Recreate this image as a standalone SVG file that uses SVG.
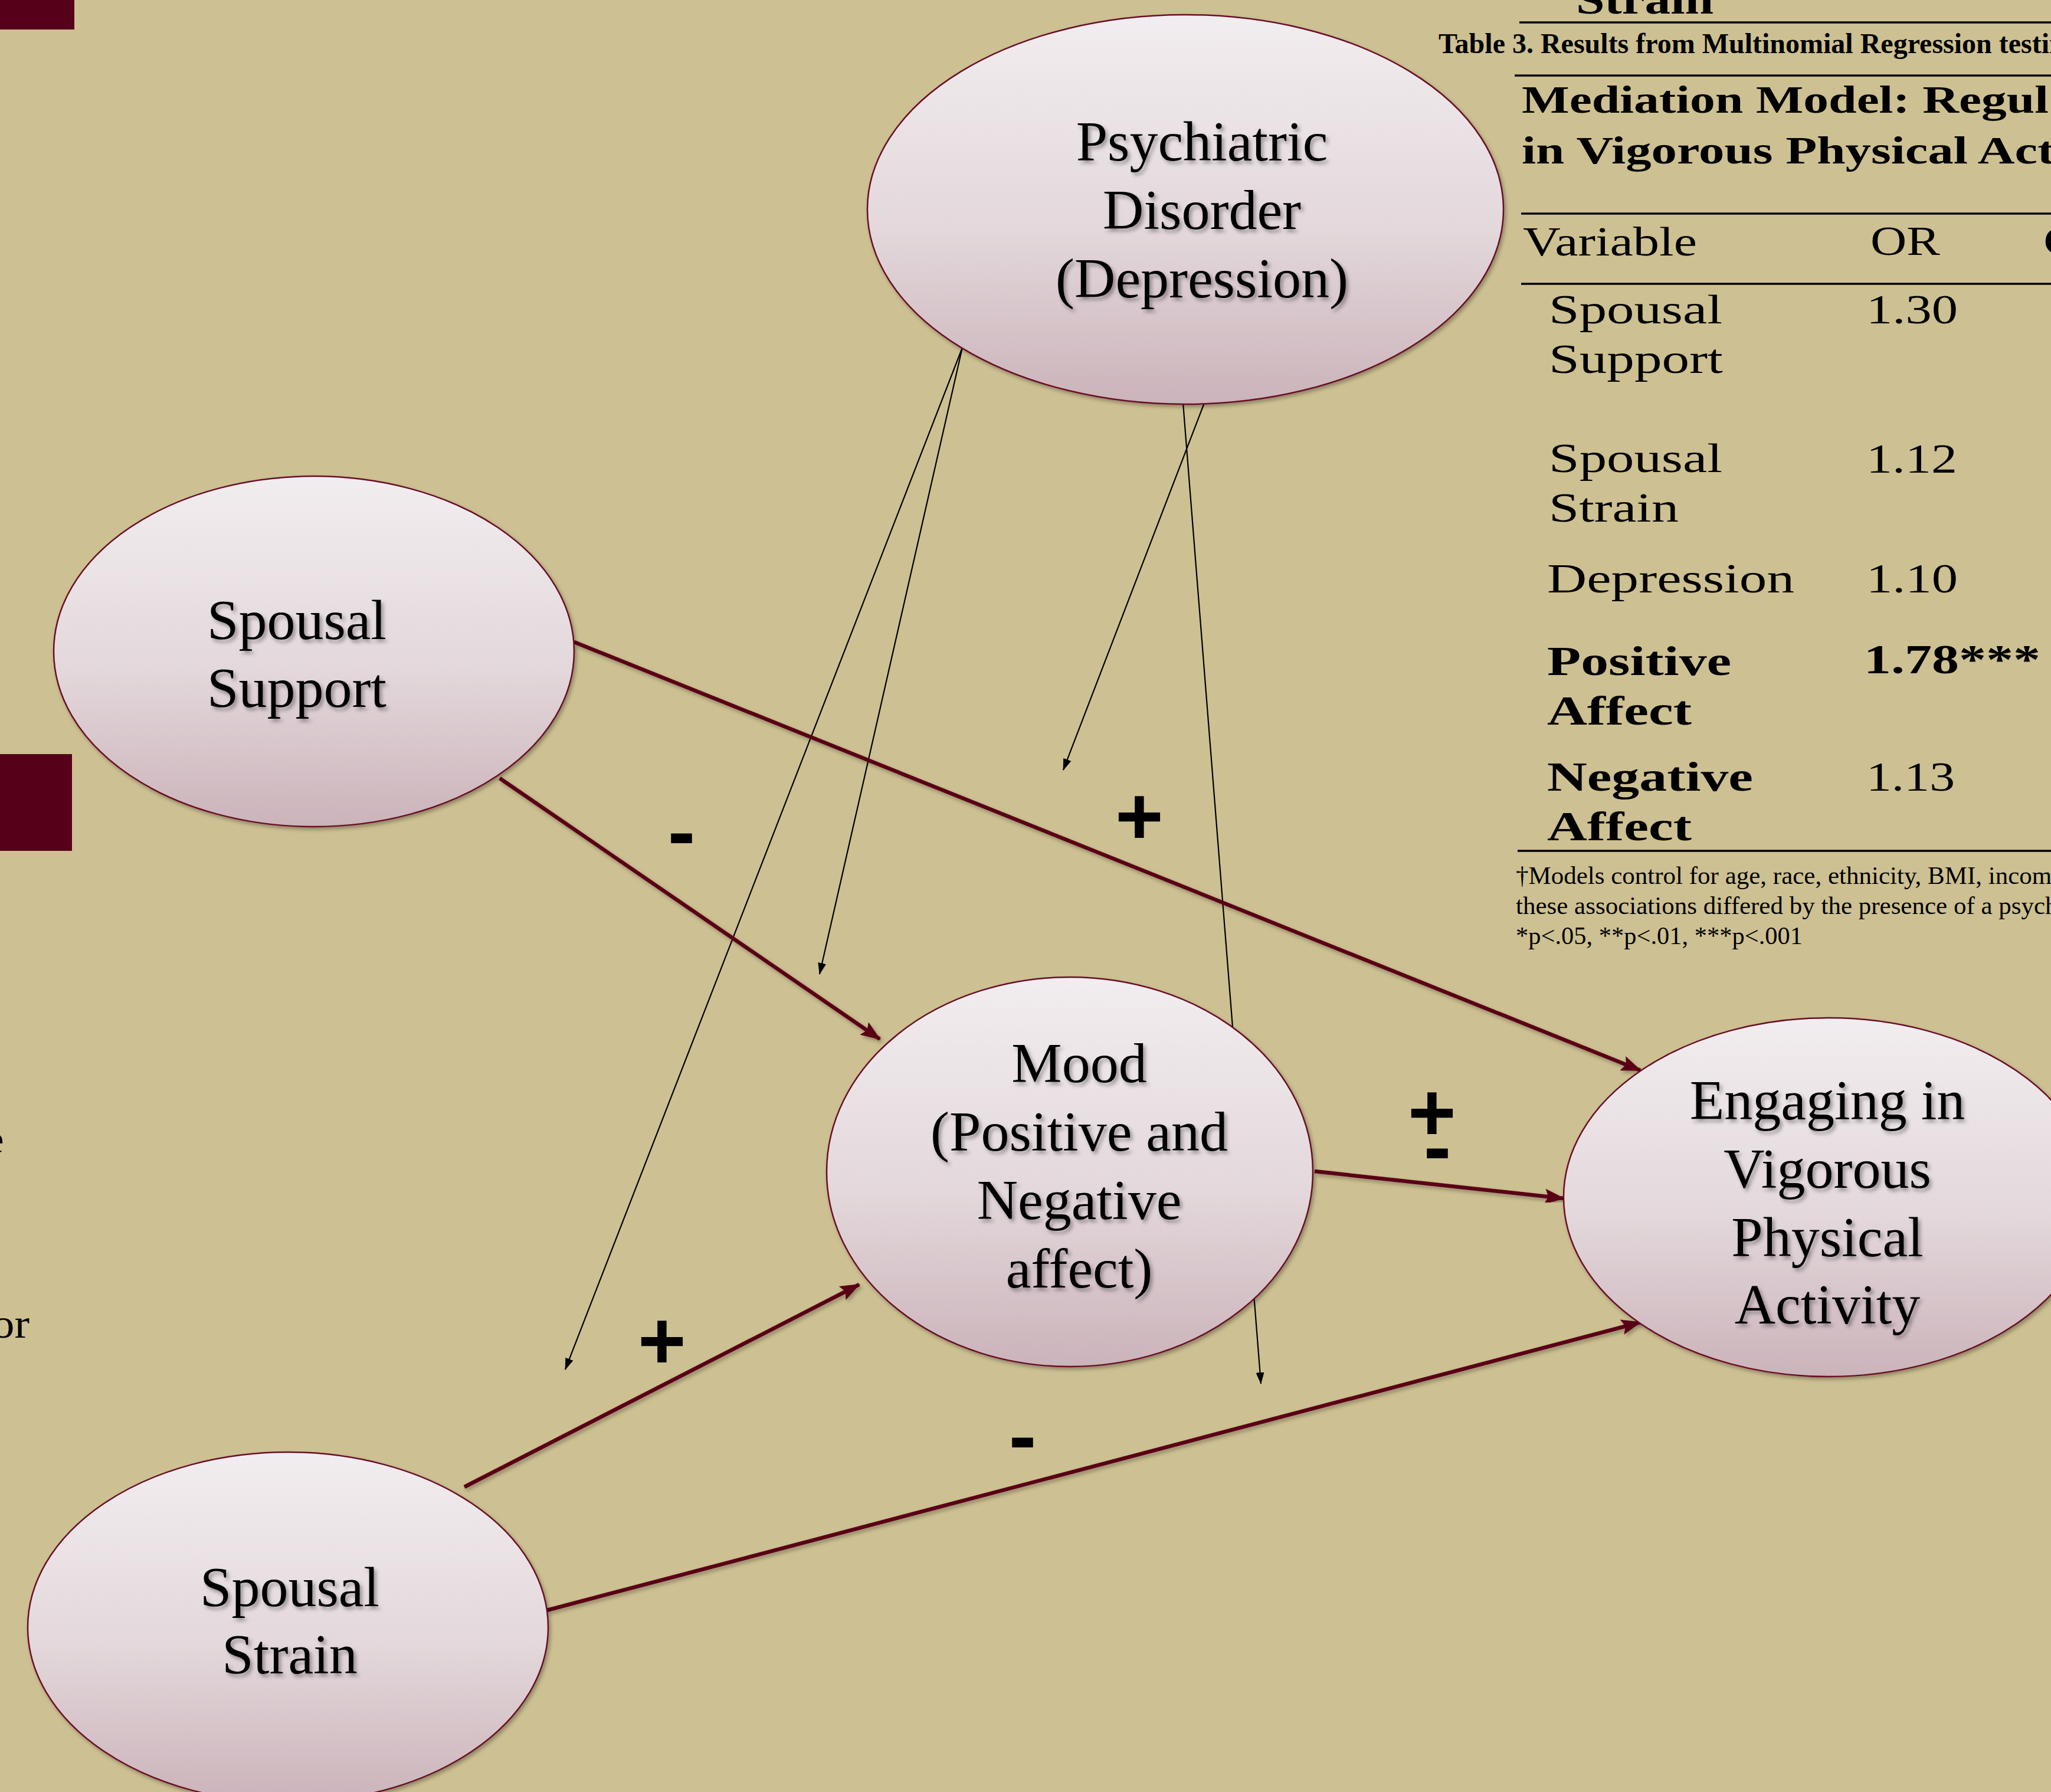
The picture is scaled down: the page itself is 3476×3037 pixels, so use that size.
<svg xmlns="http://www.w3.org/2000/svg" width="3476" height="3037" viewBox="0 0 3476 3037">
<defs>
<linearGradient id="nodeFill" x1="0" y1="0" x2="0" y2="1">
<stop offset="0" stop-color="#F2EDF0"/>
<stop offset="0.55" stop-color="#E3D8DB"/>
<stop offset="1" stop-color="#CBB3BA"/>
</linearGradient>
<filter id="shadow" x="-10%" y="-10%" width="125%" height="125%">
<feDropShadow dx="3" dy="4" stdDeviation="3" flood-color="#000" flood-opacity="0.3"/>
</filter>
<filter id="tshadow" x="-10%" y="-20%" width="125%" height="150%">
<feDropShadow dx="4" dy="5" stdDeviation="3" flood-color="#000" flood-opacity="0.35"/>
</filter>
<marker id="arrowBig" markerUnits="userSpaceOnUse" markerWidth="34" markerHeight="26" refX="32" refY="13" orient="auto">
<path d="M0,0 L34,13 L0,26 L6,13 z" fill="#5A0018"/>
</marker>
<marker id="arrowSmall" markerUnits="userSpaceOnUse" markerWidth="20" markerHeight="14" refX="19" refY="7" orient="auto">
<path d="M0,0 L20,7 L0,14 z" fill="#000"/>
</marker>
</defs>
<style>
.node ellipse{fill:url(#nodeFill);stroke:#6A1026;stroke-width:2.5;filter:url(#shadow)}
.node text{font-family:"Liberation Serif","Times New Roman",serif;font-size:96px;fill:#000;text-anchor:middle;filter:url(#tshadow)}
.thick{stroke:#5A0018;stroke-width:6.5;fill:none;marker-end:url(#arrowBig);filter:url(#shadow)}
.thin{stroke:#000;stroke-width:2.2;fill:none;marker-end:url(#arrowSmall)}
.sign{font-family:"Liberation Sans",Arial,sans-serif;font-weight:bold;font-size:140px;fill:#000;text-anchor:middle}
.tb{font-family:"Liberation Serif","Times New Roman",serif;font-size:70px;fill:#000}
.tbb{font-family:"Liberation Serif","Times New Roman",serif;font-size:70px;font-weight:bold;fill:#000}
.title{font-family:"Liberation Serif","Times New Roman",serif;font-size:48px;font-weight:bold;fill:#000}
.hdr{font-family:"Liberation Serif","Times New Roman",serif;font-size:65px;font-weight:bold;fill:#000}
.foot{font-family:"Liberation Serif","Times New Roman",serif;font-size:43px;fill:#000}
.rule{stroke:#000;stroke-width:3.5}
</style>
<rect x="0" y="0" width="3476" height="3037" fill="#CDC092"/>
<rect x="0" y="0" width="126" height="50" fill="#560019"/>
<rect x="0" y="1278" width="122" height="164" fill="#560019"/>
<text class="tb" x="-30" y="1954" textLength="37" lengthAdjust="spacingAndGlyphs">e</text>
<text class="tb" x="-14" y="2267" textLength="64" lengthAdjust="spacingAndGlyphs">or</text>

<g id="connectors">
<line class="thin" x1="1631" y1="589" x2="958" y2="2321"/>
<line class="thin" x1="1631" y1="589" x2="1389" y2="1651"/>
<line class="thin" x1="2041" y1="683" x2="1802" y2="1305"/>
<line class="thin" x1="2005" y1="683" x2="2137" y2="2345"/>
<line class="thick" x1="973" y1="1088" x2="2780" y2="1814"/>
<line class="thick" x1="847" y1="1319" x2="1491" y2="1761"/>
<line class="thick" x1="2228" y1="1985" x2="2650" y2="2031"/>
<line class="thick" x1="787" y1="2520" x2="1456" y2="2177"/>
<line class="thick" x1="927" y1="2729" x2="2780" y2="2241"/>
</g>

<g id="node-psychiatric" class="node">
<ellipse cx="2009" cy="355" rx="539" ry="330"/>
<text x="2037" y="272">Psychiatric</text>
<text x="2037" y="388">Disorder</text>
<text x="2037" y="504">(Depression)</text>
</g>
<g id="node-spousal-support" class="node">
<ellipse cx="532" cy="1104" rx="441" ry="297"/>
<text x="503" y="1083">Spousal</text>
<text x="503" y="1198">Support</text>
</g>
<g id="node-mood" class="node">
<ellipse cx="1813" cy="1986" rx="412" ry="330"/>
<text x="1829" y="1834">Mood</text>
<text x="1829" y="1950">(Positive and</text>
<text x="1829" y="2066">Negative</text>
<text x="1829" y="2182">affect)</text>
</g>
<g id="node-engaging" class="node">
<ellipse cx="3099" cy="2029" rx="449" ry="304"/>
<text x="3097" y="1897">Engaging in</text>
<text x="3097" y="2013">Vigorous</text>
<text x="3097" y="2129">Physical</text>
<text x="3097" y="2243">Activity</text>
</g>
<g id="node-spousal-strain" class="node">
<ellipse cx="488" cy="2758" rx="441" ry="297"/>
<text x="491" y="2722">Spousal</text>
<text x="491" y="2836">Strain</text>
</g>

<g id="labels">
<text class="sign" x="1155" y="1457">-</text>
<text class="sign" x="1931" y="1431">+</text>
<text class="sign" x="2427" y="1933">+</text>
<text class="sign" x="2436" y="1991">-</text>
<text class="sign" x="1122" y="2320">+</text>
<text class="sign" x="1733" y="2481">-</text>
</g>

<g id="table">
<text class="tbb" x="2671" y="23" textLength="233" lengthAdjust="spacingAndGlyphs">Strain</text>
<line class="rule" x1="2575" y1="38" x2="3476" y2="38"/>
<text class="title" x="2438" y="90">Table 3. Results from Multinomial Regression testin</text>
<line class="rule" x1="2567" y1="128" x2="3476" y2="128"/>
<text class="hdr" x="2579" y="191" textLength="893" lengthAdjust="spacingAndGlyphs">Mediation Model: Regul</text>
<text class="hdr" x="2579" y="277" textLength="903" lengthAdjust="spacingAndGlyphs">in Vigorous Physical Act</text>
<line class="rule" x1="2578" y1="362" x2="3476" y2="362"/>
<text class="tb" x="2581" y="433" textLength="295" lengthAdjust="spacingAndGlyphs">Variable</text>
<text class="tb" x="3170" y="432" textLength="118" lengthAdjust="spacingAndGlyphs">OR</text>
<text class="tb" x="3463" y="432" textLength="60" lengthAdjust="spacingAndGlyphs">C</text>
<line class="rule" x1="2578" y1="481" x2="3476" y2="481"/>
<text class="tb" x="2625" y="548" textLength="294" lengthAdjust="spacingAndGlyphs">Spousal</text>
<text class="tb" x="2625" y="632" textLength="295" lengthAdjust="spacingAndGlyphs">Support</text>
<text class="tb" x="3163" y="548" textLength="155" lengthAdjust="spacingAndGlyphs">1.30</text>
<text class="tb" x="2625" y="800" textLength="294" lengthAdjust="spacingAndGlyphs">Spousal</text>
<text class="tb" x="2625" y="884" textLength="220" lengthAdjust="spacingAndGlyphs">Strain</text>
<text class="tb" x="3163" y="801" textLength="154" lengthAdjust="spacingAndGlyphs">1.12</text>
<text class="tb" x="2622" y="1004" textLength="419" lengthAdjust="spacingAndGlyphs">Depression</text>
<text class="tb" x="3163" y="1004" textLength="155" lengthAdjust="spacingAndGlyphs">1.10</text>
<text class="tbb" x="2622" y="1144" textLength="312" lengthAdjust="spacingAndGlyphs">Positive</text>
<text class="tbb" x="2622" y="1228" textLength="245" lengthAdjust="spacingAndGlyphs">Affect</text>
<text class="tbb" x="3159" y="1141" textLength="299" lengthAdjust="spacingAndGlyphs">1.78***</text>
<text class="tbb" x="2622" y="1340" textLength="349" lengthAdjust="spacingAndGlyphs">Negative</text>
<text class="tbb" x="2622" y="1424" textLength="245" lengthAdjust="spacingAndGlyphs">Affect</text>
<text class="tb" x="3163" y="1340" textLength="150" lengthAdjust="spacingAndGlyphs">1.13</text>
<line class="rule" x1="2572" y1="1442" x2="3476" y2="1442"/>
<text class="foot" x="2569" y="1498">†Models control for age, race, ethnicity, BMI, incom</text>
<text class="foot" x="2569" y="1549">these associations differed by the presence of a psych</text>
<text class="foot" x="2569" y="1600" textLength="486" lengthAdjust="spacingAndGlyphs">*p&lt;.05, **p&lt;.01, ***p&lt;.001</text>
</g>
</svg>
